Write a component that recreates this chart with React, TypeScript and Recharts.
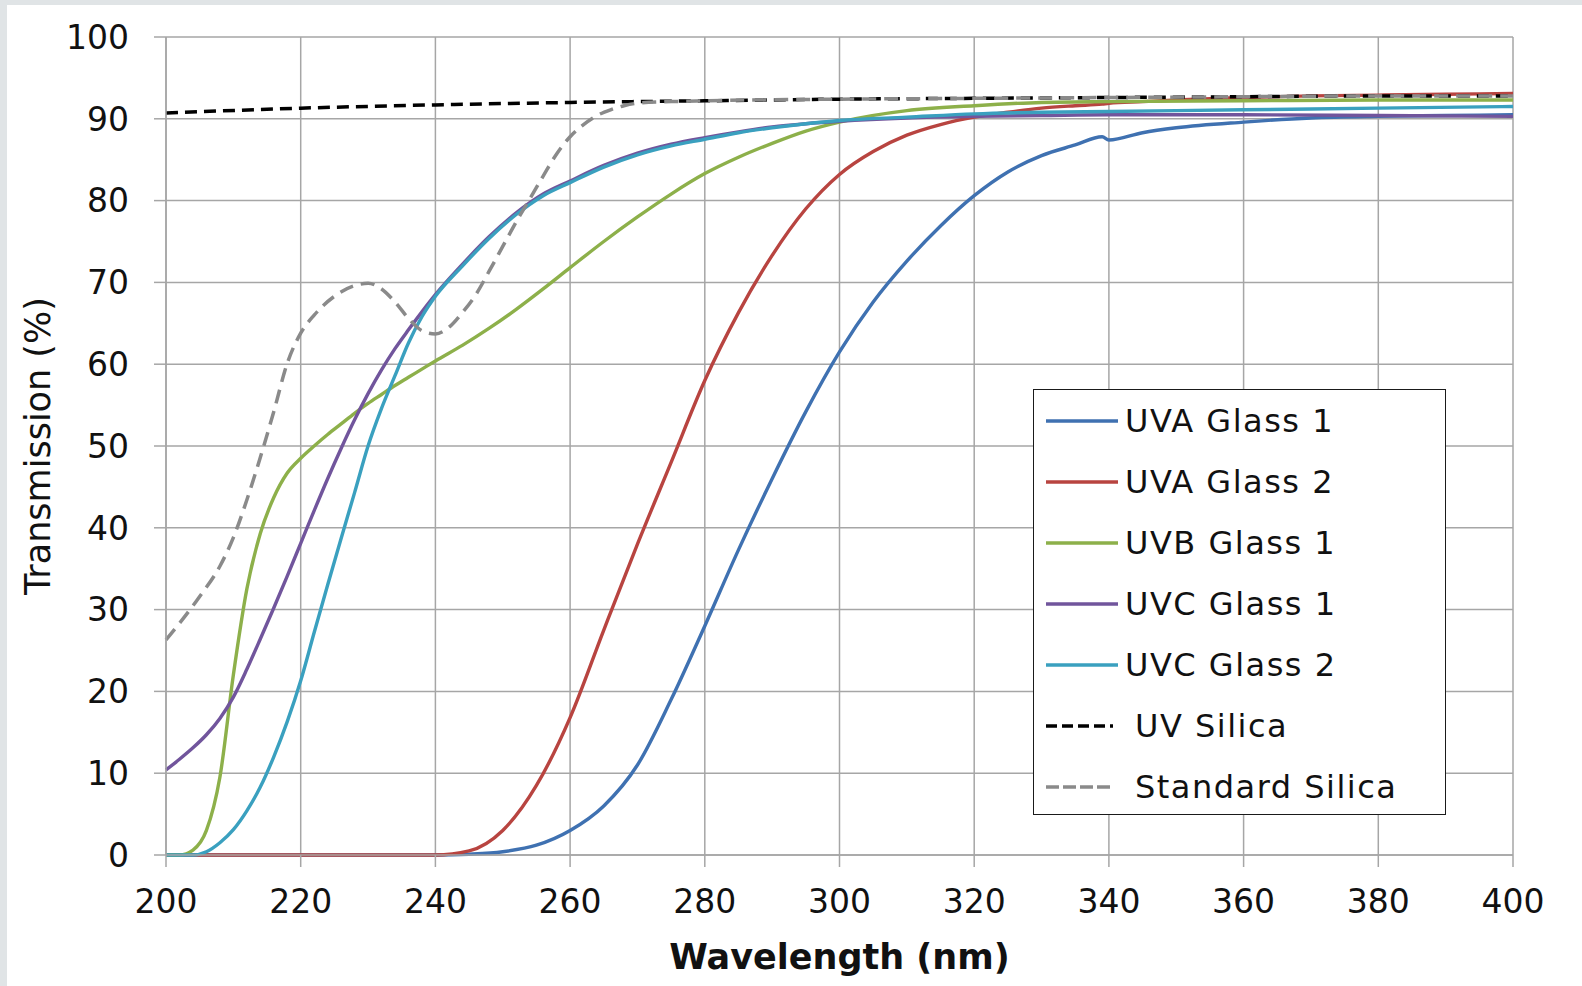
import { CartesianGrid, Legend, Line, LineChart, XAxis, YAxis } from "recharts";

// wavelength grids (nm)
const GLASS_NM = [200, 202, 204, 206, 208, 210, 212, 214, 216, 218, 220, 222, 224, 226, 228, 230, 232, 234, 236, 238, 240, 244, 248, 252, 256, 260, 265, 270, 275, 280, 285, 290, 295, 300, 310, 320, 330, 340, 360, 380, 400];
const UVA_NM = [200, 210, 220, 230, 240, 245, 250, 255, 260, 265, 270, 275, 280, 285, 290, 295, 300, 305, 310, 315, 320, 325, 330, 335, 339, 340, 345, 350, 360, 370, 380, 390, 400];
const STD_SILICA_NM = [200, 205, 208, 210, 212, 214, 216, 218, 220, 222, 225, 228, 230, 232, 234, 236, 238, 240, 242, 244, 246, 248, 250, 252, 254, 256, 258, 260, 262, 264, 266, 268, 270, 275, 280, 300, 320, 340, 360, 380, 400];
const UV_SILICA_NM = [200, 220, 240, 260, 280, 300, 320, 340, 360, 380, 400];

// transmission (%)
const UVA_GLASS_1 = [0, 0, 0, 0, 0, 0.1, 0.4, 1.2, 3.0, 6.0, 11.0, 19.0, 28, 37.3, 46, 54.2, 61.5, 67.6, 72.6, 76.9, 80.6, 83.5, 85.5, 86.8, 87.8, 87.4, 88.3, 88.9, 89.6, 90.1, 90.3, 90.4, 90.5];
const UVA_GLASS_2 = [0, 0, 0, 0, 0, 0.5, 3, 8.5, 16.8, 27.5, 38, 48, 58, 66.3, 73.3, 79.0, 83.2, 86, 88, 89.3, 90.2, 90.8, 91.3, 91.6, 91.8, 91.9, 92.1, 92.3, 92.6, 92.8, 92.9, 93.0, 93.1];
const UVB_GLASS_1 = [0, 0, 0.6, 3, 9.5, 22, 32.5, 39.3, 43.7, 46.7, 48.5, 50.0, 51.4, 52.7, 54.0, 55.2, 56.3, 57.4, 58.4, 59.4, 60.4, 62.3, 64.4, 66.7, 69.2, 71.8, 75.0, 78.0, 80.8, 83.3, 85.3, 87.0, 88.5, 89.6, 91.0, 91.6, 92.0, 92.1, 92.2, 92.3, 92.3];
const UVC_GLASS_1 = [10.4, 11.7, 13.1, 14.7, 16.7, 19.3, 22.7, 26.4, 30.2, 34.1, 38.1, 42.1, 46.0, 49.7, 53.2, 56.4, 59.3, 61.9, 64.2, 66.4, 68.5, 72.2, 75.6, 78.5, 80.8, 82.4, 84.3, 85.8, 86.9, 87.7, 88.4, 89.0, 89.4, 89.7, 90.1, 90.3, 90.4, 90.5, 90.5, 90.4, 90.3];
const UVC_GLASS_2 = [0, 0, 0, 0.4, 1.5, 3.1, 5.4, 8.3, 12.0, 16.3, 21.3, 27.2, 33.0, 38.7, 44.3, 50.0, 54.6, 58.6, 62.6, 65.8, 68.3, 72.0, 75.4, 78.3, 80.6, 82.2, 84.1, 85.6, 86.7, 87.5, 88.3, 88.9, 89.4, 89.8, 90.2, 90.6, 90.8, 90.9, 91.1, 91.3, 91.5];
const UV_SILICA = [90.7, 91.3, 91.7, 92.0, 92.2, 92.4, 92.5, 92.6, 92.7, 92.8, 92.8];
const STANDARD_SILICA = [26.3, 31.6, 35.3, 38.8, 43.4, 48.6, 54.2, 60.1, 63.8, 66.0, 68.3, 69.6, 69.9, 69.2, 67.6, 65.6, 64.1, 63.7, 64.5, 66.3, 68.5, 71.4, 74.4, 77.4, 80.2, 83.0, 85.7, 87.8, 89.3, 90.4, 91.1, 91.6, 91.9, 92.1, 92.2, 92.4, 92.5, 92.6, 92.7, 92.8, 92.8];

const X_TICKS = [200, 220, 240, 260, 280, 300, 320, 340, 360, 380, 400];
const Y_TICKS = [0, 10, 20, 30, 40, 50, 60, 70, 80, 90, 100];

const FONT = '"DejaVu Sans", sans-serif';
const GRID = "#a6a6a6";

const toPoints = (nm: number[], t: number[]) => nm.map((x, i) => ({ nm: x, t: t[i] }));

const SERIES = [
  { name: "UVA Glass 1", data: toPoints(UVA_NM, UVA_GLASS_1), color: "#3f71b1" },
  { name: "UVA Glass 2", data: toPoints(UVA_NM, UVA_GLASS_2), color: "#b84440" },
  { name: "UVB Glass 1", data: toPoints(GLASS_NM, UVB_GLASS_1), color: "#8db04a" },
  { name: "UVC Glass 1", data: toPoints(GLASS_NM, UVC_GLASS_1), color: "#71559c" },
  { name: "UVC Glass 2", data: toPoints(GLASS_NM, UVC_GLASS_2), color: "#3aa0bf" },
  { name: "UV Silica", data: toPoints(UV_SILICA_NM, UV_SILICA), color: "#000000", dash: "12 7", legendDash: "11 5" },
  { name: "Standard Silica", data: toPoints(STD_SILICA_NM, STANDARD_SILICA), color: "#8a8a8a", dash: "14 8", legendDash: "13 4" },
];

function YTitle(props: any) {
  const vb = props.viewBox || { x: 0, y: 37, width: 166, height: 818 };
  const cx = vb.x + 38;
  const cy = vb.y + vb.height / 2;
  return (
    <text
      x={cx}
      y={cy}
      transform={`rotate(-90 ${cx} ${cy})`}
      textAnchor="middle"
      dominantBaseline="central"
      fontFamily={FONT}
      fontSize={35}
      fill="#111"
    >
      Transmission (%)
    </text>
  );
}

function LegendBox() {
  return (
    <div
      style={{
        width: 413,
        height: 426,
        boxSizing: "border-box",
        border: "1.5px solid #1a1a1a",
        background: "#fff",
        fontFamily: FONT,
        fontSize: 32,
        color: "#111",
      }}
    >
      {SERIES.map((s) => (
        <div key={s.name} style={{ display: "flex", alignItems: "center", height: 61 }}>
          <svg width={72} height={10} style={{ marginLeft: 12, flex: "none" }}>
            <line
              x1={0}
              y1={5}
              x2={s.dash ? 67 : 72}
              y2={5}
              stroke={s.color}
              strokeWidth={3.5}
              strokeDasharray={s.legendDash}
              strokeLinecap={s.dash ? "butt" : "round"}
            />
          </svg>
          <span style={{ marginLeft: s.dash ? 17 : 7, letterSpacing: 1.5, whiteSpace: "nowrap" }}>{s.name}</span>
        </div>
      ))}
    </div>
  );
}

export default function App() {
  return (
    <div style={{ position: "absolute", left: 0, top: 0, width: 1582, height: 986, background: "#e0e4e6" }}>
      <div style={{ position: "absolute", left: 7, top: 5, right: 0, bottom: 0, background: "#ffffff" }} />
      <div style={{ position: "absolute", left: 0, top: 0 }}>
        <LineChart width={1582} height={986} margin={{ top: 37, right: 69, bottom: 51, left: 0 }}>
          <CartesianGrid stroke={GRID} strokeWidth={1.5} />
          <XAxis
            dataKey="nm"
            type="number"
            domain={[200, 400]}
            ticks={X_TICKS}
            interval={0}
            height={80}
            tickSize={12}
            tickMargin={23}
            stroke={GRID}
            strokeWidth={1.5}
            tick={{ fontSize: 33, fill: "#111", fontFamily: FONT }}
            allowDuplicatedCategory={false}
            label={{ value: "Wavelength (nm)", position: "bottom", offset: 9, fontSize: 35, fontWeight: "bold", fill: "#111", fontFamily: FONT }}
          />
          <YAxis
            type="number"
            domain={[0, 100]}
            ticks={Y_TICKS}
            interval={0}
            width={166}
            tickSize={12}
            tickMargin={25}
            stroke={GRID}
            strokeWidth={1.5}
            tick={{ fontSize: 33, fill: "#111", fontFamily: FONT }}
            label={<YTitle />}
          />
          <Legend
            layout="vertical"
            align="center"
            verticalAlign="middle"
            content={() => <LegendBox />}
            wrapperStyle={{ position: "absolute", left: 1033, top: 389, width: 413, height: 426 }}
          />
          {SERIES.map((s) => (
            <Line
              key={s.name}
              name={s.name}
              data={s.data}
              dataKey="t"
              type="monotone"
              stroke={s.color}
              strokeWidth={s.dash ? 3.5 : 3.4}
              strokeDasharray={s.dash}
              dot={false}
              activeDot={false}
              isAnimationActive={false}
            />
          ))}
        </LineChart>
      </div>
    </div>
  );
}
